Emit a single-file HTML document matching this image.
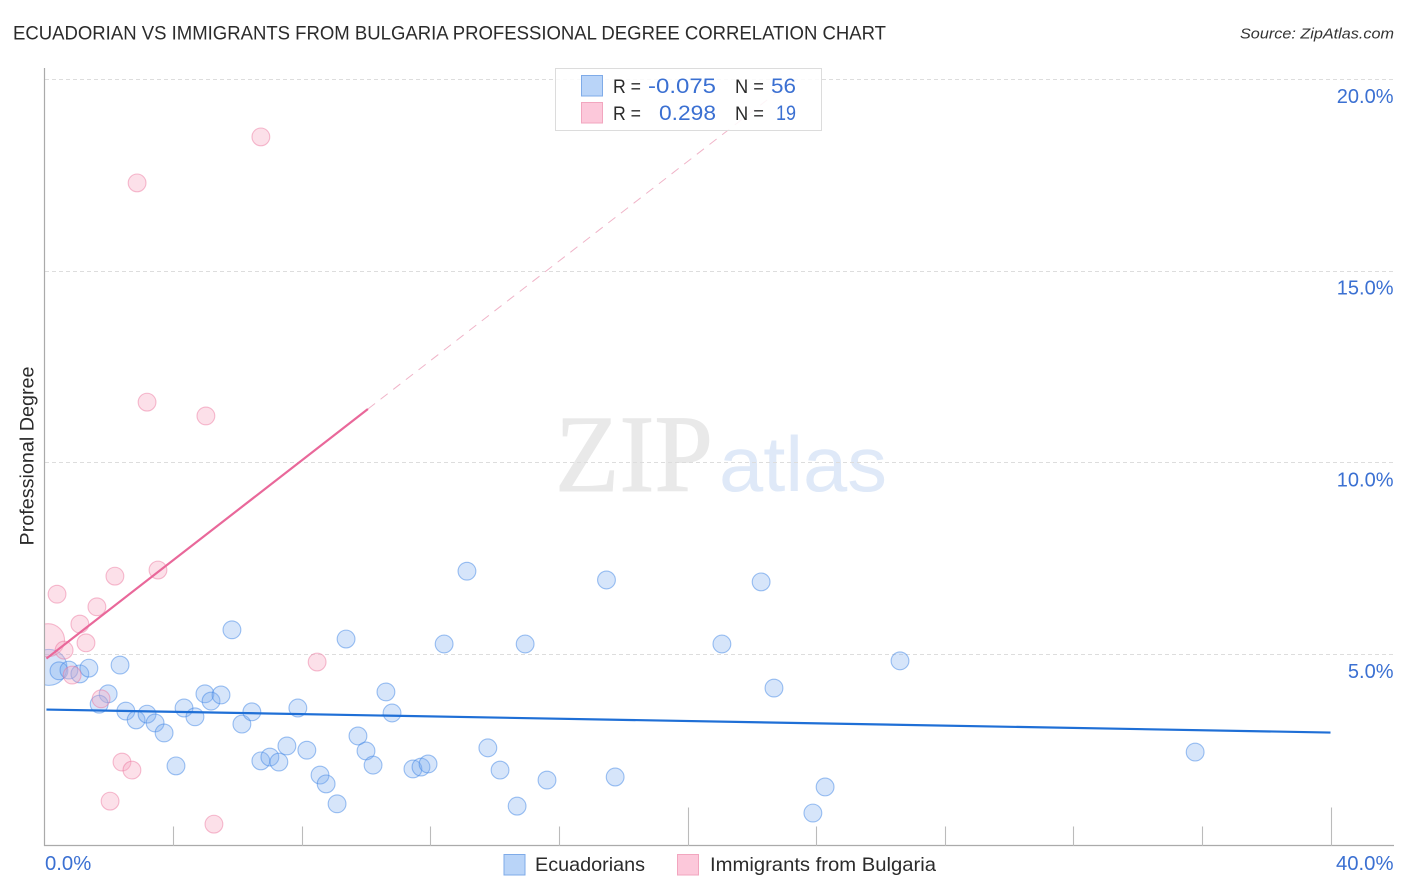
<!DOCTYPE html>
<html lang="en">
<head>
<meta charset="utf-8">
<title>Ecuadorian vs Immigrants from Bulgaria Professional Degree Correlation Chart</title>
<style>
html,body{margin:0;padding:0;background:#fff;}
body{width:1406px;height:892px;overflow:hidden;}
svg{display:block;font-family:"Liberation Sans",sans-serif;}
</style>
</head>
<body>
<svg id="chart" xmlns="http://www.w3.org/2000/svg" width="1406" height="892" viewBox="0 0 1406 892">
  <defs><clipPath id="plot-clip"><rect x="45" y="60" width="1350" height="786"></rect></clipPath></defs>
  <rect x="0" y="0" width="1406" height="892" fill="#ffffff"></rect>
  <text x="13" y="39.5" font-size="19" fill="#2b2b2b" textLength="873" lengthAdjust="spacingAndGlyphs">ECUADORIAN VS IMMIGRANTS FROM BULGARIA PROFESSIONAL DEGREE CORRELATION CHART</text>
  <text x="1394" y="38.5" font-size="15" font-style="italic" fill="#333" text-anchor="end" textLength="154" lengthAdjust="spacingAndGlyphs">Source: ZipAtlas.com</text>
  <g>
    <text x="555" y="491" font-family="'Liberation Serif',serif" font-size="110" fill="#e9e9e9" stroke="#e9e9e9" stroke-width="1" textLength="158" lengthAdjust="spacingAndGlyphs">ZIP</text>
    <text x="719" y="491" font-size="78" fill="#dfe9f8" textLength="168" lengthAdjust="spacingAndGlyphs">atlas</text>
  </g>
  <g id="grid"></g>
  <g id="axes"></g>
  <g id="points" clip-path="url(#plot-clip)"></g>
  <g id="trends"></g>
  <text transform="translate(33.5,456) rotate(-90)" font-size="19" fill="#2b2b2b" text-anchor="middle" textLength="179" lengthAdjust="spacingAndGlyphs">Professional Degree</text>

  <g>
    <rect x="555.5" y="68.5" width="266" height="62" fill="#ffffff" fill-opacity="0.86" stroke="#dcdcdc" stroke-width="1"></rect>
    <rect x="581.5" y="75.5" width="21" height="20.5" fill="#b9d4f8" stroke="#7fabe8" stroke-width="1"></rect>
    <rect x="581.5" y="102.5" width="21" height="20.5" fill="#fcc8da" stroke="#f2a6bf" stroke-width="1"></rect>
    <text x="613" y="93" font-size="19" fill="#2b2b2b" textLength="28" lengthAdjust="spacingAndGlyphs">R =</text>
    <text x="716" y="93" font-size="21.5" fill="#3b70d2" text-anchor="end" textLength="68" lengthAdjust="spacingAndGlyphs">-0.075</text>
    <text x="735" y="93" font-size="19" fill="#2b2b2b" textLength="29" lengthAdjust="spacingAndGlyphs">N =</text>
    <text x="796" y="93" font-size="21.5" fill="#3b70d2" text-anchor="end" textLength="25" lengthAdjust="spacingAndGlyphs">56</text>
    <text x="613" y="120" font-size="19" fill="#2b2b2b" textLength="28" lengthAdjust="spacingAndGlyphs">R =</text>
    <text x="716" y="120" font-size="21.5" fill="#3b70d2" text-anchor="end" textLength="57" lengthAdjust="spacingAndGlyphs">0.298</text>
    <text x="735" y="120" font-size="19" fill="#2b2b2b" textLength="29" lengthAdjust="spacingAndGlyphs">N =</text>
    <text x="796" y="120" font-size="21.5" fill="#3b70d2" text-anchor="end" textLength="20" lengthAdjust="spacingAndGlyphs">19</text>
  </g>

  <g>
    <rect x="504" y="854.5" width="21" height="20.5" fill="#b9d4f8" stroke="#7fabe8" stroke-width="1"></rect>
    <text x="535" y="871" font-size="19.5" fill="#2b2b2b" textLength="110" lengthAdjust="spacingAndGlyphs">Ecuadorians</text>
    <rect x="677.5" y="854.5" width="21" height="20.5" fill="#fcc8da" stroke="#f2a6bf" stroke-width="1"></rect>
    <text x="710" y="871" font-size="19.5" fill="#2b2b2b" textLength="226" lengthAdjust="spacingAndGlyphs">Immigrants from Bulgaria</text>
  </g>
</svg>
<script>
const yTickValues = [5, 10, 15, 20];
const yTickLabels = ["5.0%", "10.0%", "15.0%", "20.0%"];
const xTickValues = [4, 8, 12, 16, 20, 24, 28, 32, 36, 40];
const xMajorTicks = [20, 40];
const xEndLabels = ["0.0%", "40.0%"];
const xEndValues = [0, 40];

const ecuadorianX = [0.14,0.45,0.76,1.10,1.38,2.35,1.98,1.70,2.53,2.85,3.19,3.44,3.72,4.09,4.34,4.68,4.99,5.18,5.49,5.83,6.14,6.45,6.73,7.01,7.29,7.54,7.88,8.16,8.57,8.76,9.10,9.38,9.75,10.00,10.22,10.62,10.81,11.46,11.71,11.93,12.43,13.14,13.79,14.17,14.70,14.95,15.63,17.48,17.75,21.07,22.29,22.69,23.90,24.28,26.61,35.79];
const ecuadorianY = [4.66,4.57,4.59,4.49,4.64,4.72,3.97,3.70,3.52,3.29,3.44,3.21,2.95,2.09,3.60,3.37,3.97,3.78,3.94,5.64,3.18,3.50,2.22,2.32,2.19,2.61,3.60,2.50,1.85,1.62,1.10,5.40,2.87,2.48,2.11,4.02,3.47,2.01,2.06,2.14,5.27,7.17,2.56,1.98,1.04,5.27,1.72,6.94,1.80,5.27,6.89,4.12,0.86,1.54,4.83,2.45];

const bulgariaX = [0.11,0.39,0.61,0.86,1.10,1.29,1.63,1.76,2.19,2.04,2.41,2.72,2.88,3.19,3.53,5.02,5.27,6.73,8.48];
const bulgariaY = [5.37,6.57,5.11,4.46,5.79,5.30,6.24,3.84,7.04,1.17,2.19,1.98,17.30,11.58,7.20,11.22,0.57,18.50,4.80];

const ecuadorianTrendX = [0.06, 40];
const ecuadorianTrendY = [3.56, 2.96];
const bulgariaTrendX = [0.06, 10.06];
const bulgariaTrendY = [4.89, 11.40];
const bulgariaForecastX = [10.06, 23.3];
const bulgariaForecastY = [11.40, 20.0];

const NS = "http://www.w3.org/2000/svg";
const xScale = function (v) { return 44.5 + v * 32.15; };
const yScale = function (v) { return 846 - v * 38.33; };

function mk(parent, tag, attrs, text) {
  const el = document.createElementNS(NS, tag);
  for (const k in attrs) el.setAttribute(k, attrs[k]);
  if (text !== undefined) el.textContent = text;
  parent.appendChild(el);
  return el;
}

const grid = document.getElementById("grid");
const axes = document.getElementById("axes");
const points = document.getElementById("points");
const trends = document.getElementById("trends");

yTickValues.forEach(function (v, i) {
  const y = Math.floor(yScale(v)) + 0.5;
  const line = mk(grid, "line", {x1: 45, x2: 1394, y1: y, y2: y, stroke: "#dddddd", "stroke-width": 1, "stroke-dasharray": "4 3"});
  
  
  const label = mk(axes, "text", {x: 1393.5, y: yScale(v) + 23.6, "font-size": 20, fill: "#3b70d2", "text-anchor": "end"}, yTickLabels[i]);
  
  
});

const yAxis = mk(axes, "line", {x1: 44.5, x2: 44.5, y1: 68, y2: 846, stroke: "#aaaaaa", "stroke-width": 1.2});


const xAxis = mk(axes, "line", {x1: 44, x2: 1394, y1: 845.5, y2: 845.5, stroke: "#aaaaaa", "stroke-width": 1.2});



xTickValues.forEach(function (v) {
  const x = Math.round(xScale(v)) + 0.5;
  const top = xMajorTicks.indexOf(v) >= 0 ? 807.5 : 826.5;
  const tick = mk(axes, "line", {x1: x, x2: x, y1: top, y2: 846, stroke: "#bbbbbb", "stroke-width": 1.1});
  
  
});

xEndValues.forEach(function (v, i) {
  const anchor = i === 0 ? "start" : "end";
  const x = i === 0 ? xScale(v) + 0.5 : 1393.5;
  const label = mk(axes, "text", {x: x, y: 870, "font-size": 20.3, fill: "#3b70d2", "text-anchor": anchor}, xEndLabels[i]);
  
  
});

ecuadorianX.forEach(function (v, i) {
  const c = mk(points, "circle", {cx: xScale(v), cy: yScale(ecuadorianY[i]), r: i === 0 ? 18 : 8.9, fill: "#78aaf0", "fill-opacity": 0.3, stroke: "#3f85e6", "stroke-opacity": 0.5, "stroke-width": 1.1});
  
  
});

bulgariaX.forEach(function (v, i) {
  const c = mk(points, "circle", {cx: xScale(v), cy: yScale(bulgariaY[i]), r: i === 0 ? 16.5 : 8.9, fill: "#f7a8c2", "fill-opacity": 0.36, stroke: "#ea6f98", "stroke-opacity": 0.45, "stroke-width": 1.1});
  
  
});

const forecast = mk(trends, "line", {x1: xScale(bulgariaForecastX[0]), y1: yScale(bulgariaForecastY[0]), x2: xScale(bulgariaForecastX[1]), y2: yScale(bulgariaForecastY[1]), stroke: "#f0b4c8", "stroke-width": 1, "stroke-dasharray": "9 7"});



const bulgariaTrend = mk(trends, "line", {x1: xScale(bulgariaTrendX[0]), y1: yScale(bulgariaTrendY[0]), x2: xScale(bulgariaTrendX[1]), y2: yScale(bulgariaTrendY[1]), stroke: "#e9689a", "stroke-width": 2.2});



const ecuadorianTrend = mk(trends, "line", {x1: xScale(ecuadorianTrendX[0]), y1: yScale(ecuadorianTrendY[0]), x2: xScale(ecuadorianTrendX[1]), y2: yScale(ecuadorianTrendY[1]), stroke: "#1f6fd6", "stroke-width": 2.2});


</script>
</body>
</html>
